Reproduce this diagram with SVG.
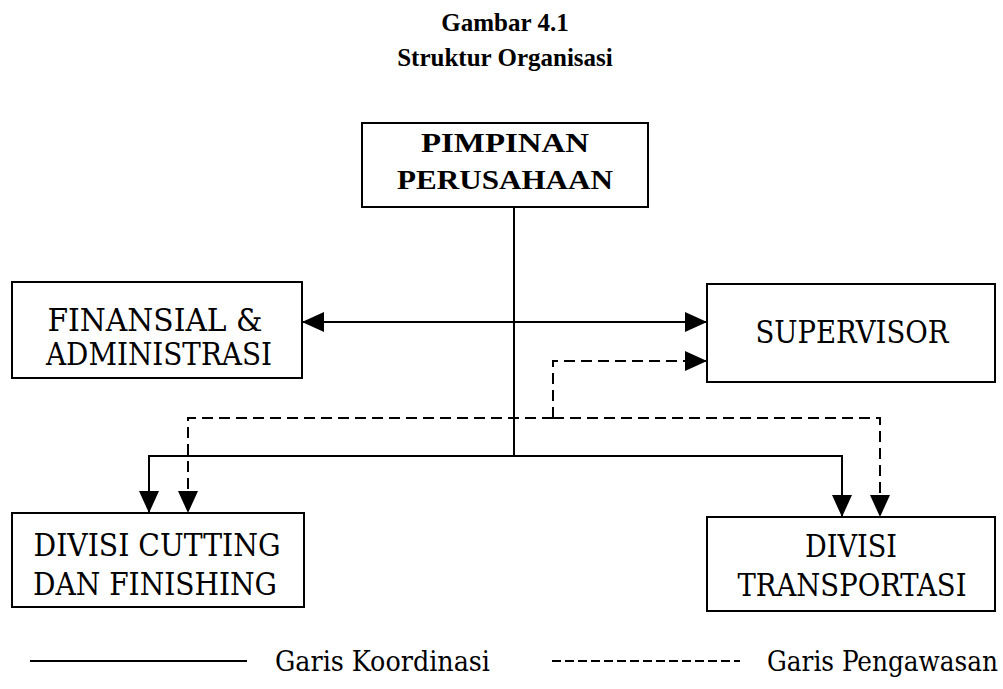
<svg xmlns="http://www.w3.org/2000/svg" width="1003" height="689" viewBox="0 0 1003 689">
<defs>
<style>
.box{fill:#fff;stroke:#000;stroke-width:2}
.t{font-family:"DejaVu Serif Condensed","DejaVu Serif",serif;font-size:31px;fill:#000;text-anchor:middle}
.tb{font-family:"Liberation Serif","Times New Roman",serif;font-weight:bold;fill:#000;text-anchor:middle}
.ln{fill:none;stroke:#000;stroke-width:2}
.ds{fill:none;stroke:#000;stroke-width:2;stroke-dasharray:11 6}
.lg{font-family:"DejaVu Serif Condensed","DejaVu Serif",serif;font-size:28px;fill:#000}
</style>
<marker id="ah" viewBox="0 0 22 20" refX="22" refY="10" markerWidth="22" markerHeight="20" markerUnits="userSpaceOnUse" orient="auto-start-reverse">
<path d="M0,0 L22,10 L0,20 Z" fill="#000"/>
</marker>
</defs>
<rect width="1003" height="689" fill="#fff"/>
<g id="title">
<text class="tb" x="505" y="31" font-size="25">Gambar 4.1</text>
<text class="tb" x="505" y="66" font-size="25">Struktur Organisasi</text>
</g>
<g id="connectors">
<path class="ln" d="M514,207 V456"/>
<path class="ln" d="M302,322 H707" marker-start="url(#ah)" marker-end="url(#ah)"/>
<path class="ln" d="M514,456 H149 V513" marker-end="url(#ah)"/>
<path class="ln" d="M514,456 H842 V517" marker-end="url(#ah)"/>
<path class="ds" d="M553,418 V361 H707" marker-end="url(#ah)"/>
<path class="ds" d="M553,418 H188 V513" marker-end="url(#ah)"/>
<path class="ds" d="M553,418 H880 V517" marker-end="url(#ah)"/>
</g>
<g id="pimpinan">
<rect class="box" x="362" y="123" width="286" height="84"/>
<text class="tb" x="505" y="152" font-size="28" textLength="168" lengthAdjust="spacingAndGlyphs">PIMPINAN</text>
<text class="tb" x="505" y="189" font-size="28" textLength="216" lengthAdjust="spacingAndGlyphs">PERUSAHAAN</text>
</g>
<g id="finansial">
<rect class="box" x="12" y="282" width="290" height="96"/>
<text class="t" x="155" y="331" textLength="215" lengthAdjust="spacingAndGlyphs">FINANSIAL &amp;</text>
<text class="t" x="159" y="365" textLength="226" lengthAdjust="spacingAndGlyphs">ADMINISTRASI</text>
</g>
<g id="supervisor">
<rect class="box" x="707" y="284" width="288" height="98"/>
<text class="t" x="852" y="343" textLength="193" lengthAdjust="spacingAndGlyphs">SUPERVISOR</text>
</g>
<g id="cutting">
<rect class="box" x="12" y="513" width="292" height="94"/>
<text class="t" x="157" y="556" textLength="247" lengthAdjust="spacingAndGlyphs">DIVISI CUTTING</text>
<text class="t" x="155" y="595" textLength="244" lengthAdjust="spacingAndGlyphs">DAN FINISHING</text>
</g>
<g id="transportasi">
<rect class="box" x="707" y="517" width="288" height="94"/>
<text class="t" x="851" y="557" textLength="92" lengthAdjust="spacingAndGlyphs">DIVISI</text>
<text class="t" x="852" y="596" textLength="229" lengthAdjust="spacingAndGlyphs">TRANSPORTASI</text>
</g>
<g id="legend">
<path class="ln" d="M30,661 H247"/>
<text class="lg" x="275" y="671" textLength="215" lengthAdjust="spacingAndGlyphs">Garis Koordinasi</text>
<path class="ln" d="M552,661 H740" stroke-dasharray="9 4"/>
<text class="lg" x="767" y="671" textLength="231" lengthAdjust="spacingAndGlyphs">Garis Pengawasan</text>
</g>
</svg>
